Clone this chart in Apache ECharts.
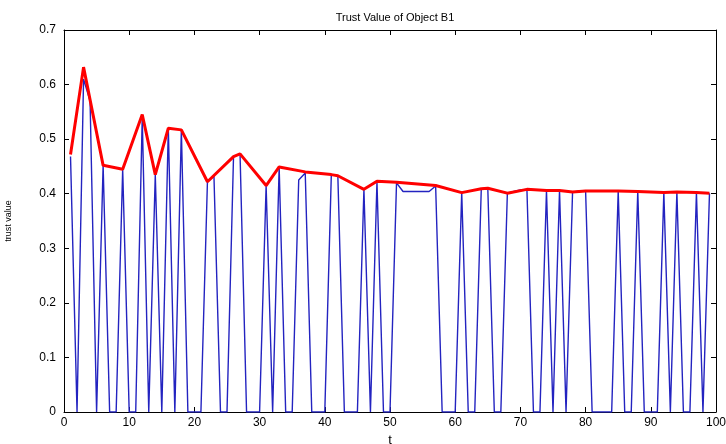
<!DOCTYPE html>
<html>
<head>
<meta charset="utf-8">
<script src="https://cdn.jsdelivr.net/npm/echarts@6/dist/echarts.min.js"></script>
<style>
html,body{margin:0;padding:0;background:#fff;}
#c{width:726px;height:444px;}
</style>
</head>
<body>
<div id="c"></div>
<script>
// Observed trust value (blue), t = 1..99
const blueT = [1,2,3,4,5,6,7,8,9,10,11,12,13,14,15,16,17,18,19,20,21,22,23,24,25,26,27,28,29,30,31,32,33,34,35,36,37,38,39,40,41,42,43,44,45,46,47,48,49,50,51,52,53,54,55,56,57,58,59,60,61,62,63,64,65,66,67,68,69,70,71,72,73,74,75,76,77,78,79,80,81,82,83,84,85,86,87,88,89,90,91,92,93,94,95,96,97,98,99];
const blueValues = [
  0.468,0,0.61,0.57,0,0.452,0,0,0.445,0,
  0,0.54,0,0.435,0,0.52,0,0.517,0,0,
  0,0.422,0.432,0,0,0.468,0.473,0,0,0,
  0.415,0,0.449,0,0,0.425,0.438,0,0,0,
  0.435,0.433,0,0,0,0.408,0,0.422,0,0,
  0.42,0.404,0.404,0.404,0.404,0.404,0.414,0,0,0,
  0.402,0,0,0.409,0.41,0,0,0.401,0.404,0.407,
  0.408,0,0,0.406,0,0.406,0,0.403,0.405,0.405,
  0,0,0,0,0.405,0,0,0.405,0,0,
  0,0.402,0,0.403,0,0,0.402,0,0.401
];
// Trust envelope (red) vertices
const redT = [1,3,6,9,12,14,16,18,22,26,27,31,33,37,41,42,46,48,51,57,61,64,65,68,71,74,76,78,80,85,88,92,94,97,99];
const redValues = [0.472,0.632,0.452,0.445,0.545,0.435,0.52,0.517,0.422,0.468,0.473,0.415,0.449,0.44,0.435,0.433,0.408,0.423,0.421,0.415,0.402,0.409,0.41,0.401,0.408,0.406,0.406,0.403,0.405,0.405,0.404,0.402,0.403,0.402,0.401];

const xTicks = [0,10,20,30,40,50,60,70,80,90,100];
const yTicks = [0,0.1,0.2,0.3,0.4,0.5,0.6,0.7];

const font = 'Liberation Sans, Arial, sans-serif';
const chart = echarts.init(document.getElementById('c'), null, {renderer:'canvas'});
const axisCommon = {
  axisLine:{show:true, onZero:false, lineStyle:{color:'#000', width:1}},
  axisTick:{show:true, inside:true, length:5, lineStyle:{color:'#000'}},
  splitLine:{show:false}
};
chart.setOption({
  animation:false,
  backgroundColor:'#fff',
  title:{text:'Trust Value of Object B1', left:390, top:7, textAlign:'center',
    textStyle:{fontFamily:font, fontSize:11, fontWeight:'normal', color:'#000'}},
  grid:{left:64, right:10, top:30, bottom:32, containLabel:false, outerBoundsMode:'none'},
  xAxis:[
    Object.assign({type:'value', min:xTicks[0], max:xTicks[xTicks.length-1], interval:10, position:'bottom',
      name:'t', nameLocation:'middle', nameGap:22,
      nameTextStyle:{fontFamily:font, fontSize:13, color:'#000'},
      axisLabel:{fontFamily:font, fontSize:12, color:'#000', margin:5}}, axisCommon),
    Object.assign({type:'value', min:xTicks[0], max:xTicks[xTicks.length-1], interval:10, position:'top',
      axisLabel:{show:false}}, axisCommon)
  ],
  yAxis:[
    Object.assign({type:'value', min:yTicks[0], max:yTicks[yTicks.length-1], interval:0.1, position:'left',
      name:'trust value', nameLocation:'middle', nameGap:51, nameRotate:90,
      nameTextStyle:{fontFamily:font, fontSize:9, color:'#000'},
      axisLabel:{fontFamily:font, fontSize:12, color:'#000', margin:8,
        formatter:v=>String(Math.round(v*10)/10)}}, axisCommon),
    Object.assign({type:'value', min:yTicks[0], max:yTicks[yTicks.length-1], interval:0.1, position:'right',
      axisLabel:{show:false}}, axisCommon)
  ],
  series:[
    {type:'line', xAxisIndex:0, yAxisIndex:0, showSymbol:false, z:2,
      data:blueT.map((t,i)=>[t, blueValues[i]]),
      lineStyle:{color:'#2323c0', width:1.4}},
    {type:'line', xAxisIndex:0, yAxisIndex:0, showSymbol:false, z:3,
      data:redT.map((t,i)=>[t, redValues[i]]),
      lineStyle:{color:'#ff0000', width:3}}
  ]
});
</script>
</body>
</html>
